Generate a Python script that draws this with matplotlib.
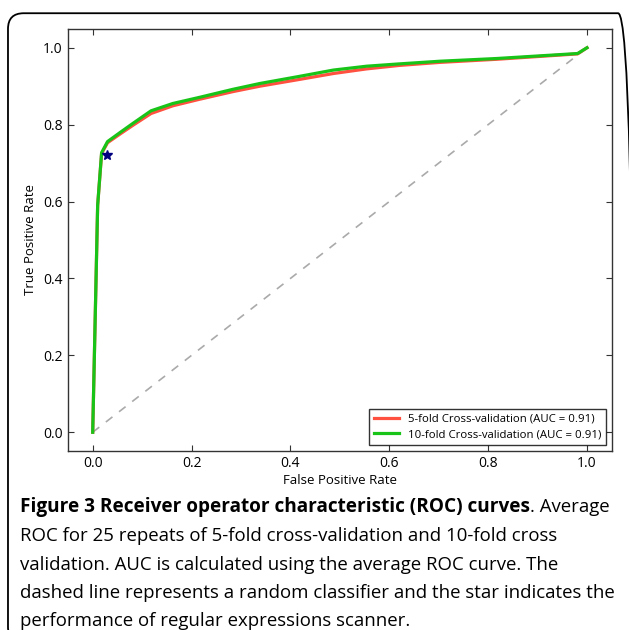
import matplotlib
matplotlib.use('Agg')
import matplotlib.pyplot as plt
from matplotlib.patches import FancyBboxPatch

plt.rcParams['font.family'] = ['Open Sans', 'DejaVu Sans']

# averaged ROC curves
fpr = [0, 0.01, 0.018, 0.03, 0.058, 0.081, 0.118, 0.162, 0.216, 0.284, 0.338,
       0.42, 0.487, 0.554, 0.62, 0.703, 0.817, 0.981, 1.0]
tpr_5fold = [0, 0.59, 0.725, 0.753, 0.778, 0.798, 0.829, 0.849, 0.866, 0.886, 0.900,
             0.918, 0.933, 0.945, 0.954, 0.962, 0.970, 0.984, 1.0]
tpr_10fold = [0, 0.59, 0.727, 0.756, 0.782, 0.803, 0.836, 0.855, 0.871, 0.892, 0.907,
              0.926, 0.942, 0.952, 0.958, 0.965, 0.972, 0.985, 1.0]
star_point = (0.028, 0.721)  # regular expressions scanner
ticks = [0.0, 0.2, 0.4, 0.6, 0.8, 1.0]

caption_bold = "Figure 3 Receiver operator characteristic (ROC) curves"
caption_lines = [
    ". Average",
    "ROC for 25 repeats of 5-fold cross-validation and 10-fold cross",
    "validation. AUC is calculated using the average ROC curve. The",
    "dashed line represents a random classifier and the star indicates the",
    "performance of regular expressions scanner.",
]

fig = plt.figure(figsize=(6.29, 6.30), dpi=100)

# rounded frame around the figure panel
frame = FancyBboxPatch((0.0127, -0.02), 0.995, 0.999, transform=fig.transFigure,
                       boxstyle="round,pad=0,rounding_size=0.025",
                       fc='none', ec='black', lw=1.3, clip_on=False)
fig.patches.append(frame)

ax = fig.add_axes([0.1081, 0.2846, 0.8644, 0.6689])
ax.plot([0, 1], [0, 1], ls='--', color='#aaaaaa', lw=1.2, dashes=(5, 5))
ax.plot(fpr, tpr_5fold, color='#ff5040', lw=2.3,
        label='5-fold Cross-validation (AUC = 0.91)')
ax.plot(fpr, tpr_10fold, color='#19c419', lw=2.3,
        label='10-fold Cross-validation (AUC = 0.91)')
ax.plot([star_point[0]], [star_point[1]], marker='*', color='#000080',
        ms=7, ls='none')

ax.set_xlim(-0.05, 1.05)
ax.set_ylim(-0.048, 1.048)
ax.set_xticks(ticks)
ax.set_yticks(ticks)
ax.set_xticklabels(['%.1f' % t for t in ticks])
ax.set_yticklabels(['%.1f' % t for t in ticks])
ax.tick_params(direction='in', length=4, width=0.8, labelsize=10, pad=4,
               top=True, right=True, color='#333333')
for s in ax.spines.values():
    s.set_color('#333333')
    s.set_linewidth(1.0)
ax.set_xlabel('False Positive Rate', fontsize=9.5, labelpad=2)
ax.set_ylabel('True Positive Rate', fontsize=9.5, labelpad=4)

leg = ax.legend(loc='lower right', fontsize=8.2, frameon=True, fancybox=False,
                handlelength=2.2, borderpad=0.4, labelspacing=0.4,
                borderaxespad=0.5)
leg.get_frame().set_edgecolor('black')
leg.get_frame().set_linewidth(1.0)

# caption below the plot
cap_size = 13.4
x0 = 20 / 629
line_y = [507, 536, 565, 593, 621]
t = fig.text(x0, 1 - line_y[0] / 630, caption_bold, fontsize=13.7,
             fontweight='bold', va='center', ha='left')
fig.canvas.draw()
bb = t.get_window_extent(fig.canvas.get_renderer())
fig.text(bb.x1 / fig.bbox.width, 1 - line_y[0] / 630, caption_lines[0],
         fontsize=cap_size, va='center', ha='left')
for yy, line in zip(line_y[1:], caption_lines[1:]):
    fig.text(x0, 1 - yy / 630, line, fontsize=cap_size, va='center', ha='left')

fig.savefig('out.png', dpi=100)
